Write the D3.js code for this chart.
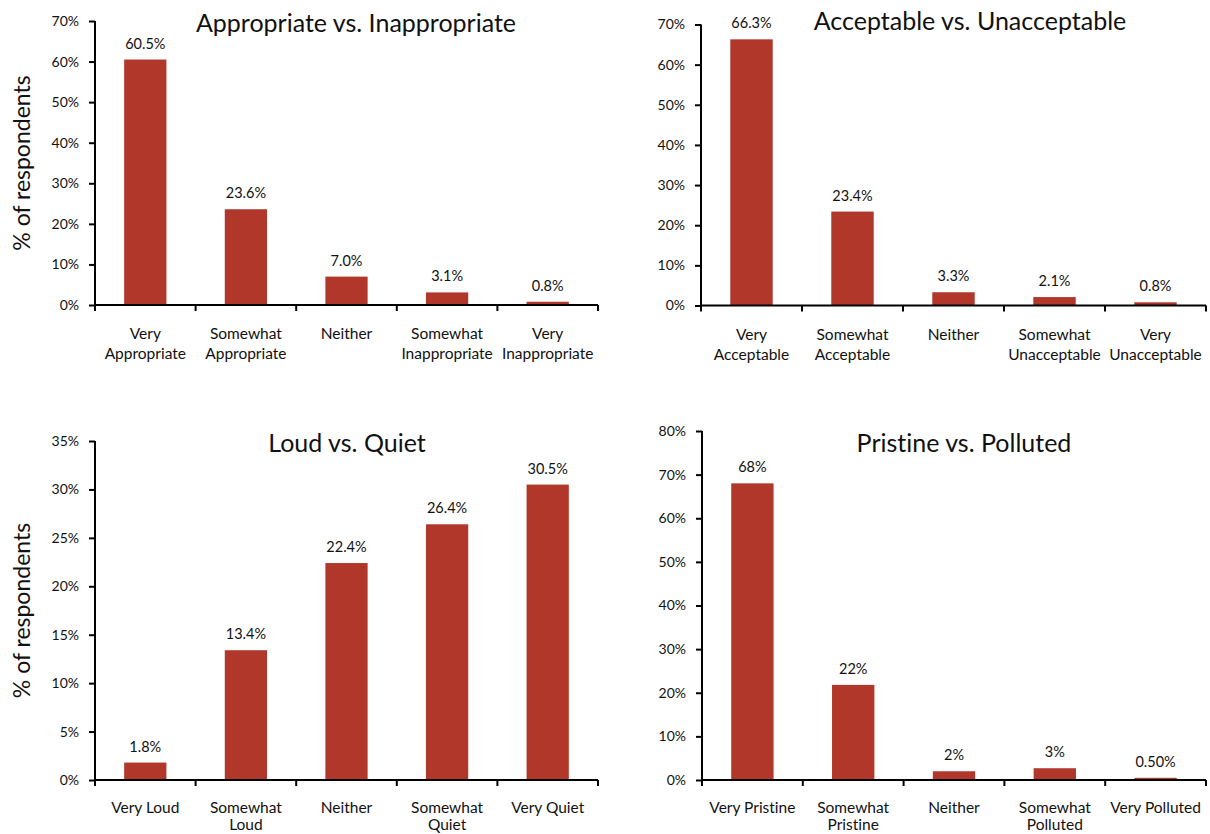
<!DOCTYPE html>
<html><head><meta charset="utf-8">
<script src="https://cdn.jsdelivr.net/npm/d3@7"></script>
<style>
html,body{margin:0;padding:0;background:#fff;}
svg{display:block;}
text{font-family:"Lato","Noto Sans",sans-serif;fill:#111;font-variant-ligatures:none;font-feature-settings:"liga" 0;}
</style></head>
<body>
<svg id="chart" width="1210" height="834"></svg>
<script>
// ---- DATA ----
const titles = ["Appropriate vs. Inappropriate", "Acceptable vs. Unacceptable", "Loud vs. Quiet", "Pristine vs. Polluted"];
const categoriesA = [["Very","Appropriate"],["Somewhat","Appropriate"],["Neither"],["Somewhat","Inappropriate"],["Very","Inappropriate"]];
const valuesA = [60.5, 23.6, 7.0, 3.1, 0.8];
const labelsA = ["60.5%","23.6%","7.0%","3.1%","0.8%"];
const ticksA = [0,10,20,30,40,50,60,70];

const categoriesB = [["Very","Acceptable"],["Somewhat","Acceptable"],["Neither"],["Somewhat","Unacceptable"],["Very","Unacceptable"]];
const valuesB = [66.3, 23.4, 3.3, 2.1, 0.8];
const labelsB = ["66.3%","23.4%","3.3%","2.1%","0.8%"];
const ticksB = [0,10,20,30,40,50,60,70];

const categoriesC = [["Very Loud"],["Somewhat","Loud"],["Neither"],["Somewhat","Quiet"],["Very Quiet"]];
const valuesC = [1.8, 13.4, 22.4, 26.4, 30.5];
const labelsC = ["1.8%","13.4%","22.4%","26.4%","30.5%"];
const ticksC = [0,5,10,15,20,25,30,35];

const categoriesD = [["Very Pristine"],["Somewhat","Pristine"],["Neither"],["Somewhat","Polluted"],["Very Polluted"]];
const valuesD = [68, 21.8, 2.0, 2.7, 0.5];
const labelsD = ["68%","22%","2%","3%","0.50%"];
const ticksD = [0,10,20,30,40,50,60,70,80];

const yAxisTitle = "% of respondents";

// ---- LAYOUT ----
const svg = d3.select("#chart");
const barColor = "#b0372a";

const panels = [
  {title:titles[0], cats:categoriesA, vals:valuesA, labs:labelsA, ticks:ticksA, x0:95, x1:598, yTop:21, yBot:305, titleX:356, titleY:32, yTitle:true, catY:34, catGap:20},
  {title:titles[1], cats:categoriesB, vals:valuesB, labs:labelsB, ticks:ticksB, x0:701, x1:1206, yTop:24.5, yBot:305.5, titleX:970, titleY:30, yTitle:false, catY:34, catGap:20},
  {title:titles[2], cats:categoriesC, vals:valuesC, labs:labelsC, ticks:ticksC, x0:95, x1:598, yTop:441, yBot:780, titleX:347, titleY:452, yTitle:true, catY:33, catGap:17},
  {title:titles[3], cats:categoriesD, vals:valuesD, labs:labelsD, ticks:ticksD, x0:702, x1:1206, yTop:431, yBot:780, titleX:964, titleY:452, yTitle:false, catY:33, catGap:17}
];

panels.forEach(p => {
  const g = svg.append("g");
  const names = p.cats.map(c => c.join(" "));
  const x = d3.scaleBand().domain(names).range([p.x0, p.x1]).paddingInner(0.58).paddingOuter(0.29);
  const xb = d3.scaleBand().domain(names).range([p.x0, p.x1]);
  const y = d3.scaleLinear().domain([0, d3.max(p.ticks)]).range([p.yBot, p.yTop]);

  // bars
  g.selectAll("rect.bar").data(p.vals).enter().append("rect")
    .attr("class","bar")
    .attr("x", (d,i) => x(names[i]))
    .attr("width", x.bandwidth())
    .attr("y", d => y(d))
    .attr("height", d => y(0) - y(d))
    .attr("fill", barColor);

  // value labels
  g.selectAll("text.val").data(p.vals).enter().append("text")
    .attr("class","val")
    .attr("x", (d,i) => x(names[i]) + x.bandwidth()/2)
    .attr("y", d => y(d) - 11)
    .attr("text-anchor","middle")
    .style("font-size","14.5px")
    .text((d,i) => p.labs[i]);

  // y axis
  const yAxis = d3.axisLeft(y).tickValues(p.ticks).tickFormat(d => d + "%").tickSize(6).tickSizeOuter(0).tickPadding(10);
  const ya = g.append("g").attr("transform", `translate(${p.x0},0)`).call(yAxis);
  ya.selectAll("path,line").attr("stroke","#000").attr("stroke-width",2);
  ya.select("path.domain").attr("d", `M0,${p.yTop}V${p.yBot}`);
  ya.selectAll("text").style("font-size","14px").style("font-family","Lato, 'Noto Sans', sans-serif").attr("fill","#111");

  // x axis: ticks at band boundaries
  g.append("line").attr("x1", p.x0).attr("x2", p.x1).attr("y1", p.yBot).attr("y2", p.yBot)
    .attr("stroke","#000").attr("stroke-width",2);
  const bounds = names.map(n => xb(n)).concat([p.x1]);
  g.selectAll("line.xt").data(bounds).enter().append("line")
    .attr("class","xt")
    .attr("x1", d => d).attr("x2", d => d)
    .attr("y1", p.yBot).attr("y2", p.yBot + 6)
    .attr("stroke","#000").attr("stroke-width",2);

  // category labels
  const cl = g.selectAll("text.cat").data(p.cats).enter().append("text")
    .attr("class","cat")
    .attr("x", (d,i) => xb(names[i]) + xb.bandwidth()/2)
    .attr("y", p.yBot + p.catY)
    .attr("text-anchor","middle")
    .style("font-size","15.5px");
  cl.selectAll("tspan").data(d => d).enter().append("tspan")
    .attr("x", function(){ return d3.select(this.parentNode).attr("x"); })
    .attr("dy", (d,i) => i === 0 ? 0 : p.catGap)
    .text(d => d);

  // title
  g.append("text").attr("x", p.titleX).attr("y", p.titleY).attr("text-anchor","middle")
    .style("font-size","25px").text(p.title);

  if (p.yTitle) {
    const cy = (p.yTop + p.yBot) / 2;
    g.append("text").attr("transform", `translate(30,${cy}) rotate(-90)`)
      .attr("text-anchor","middle").style("font-size","23px").text(yAxisTitle);
  }
});
</script>
</body></html>
